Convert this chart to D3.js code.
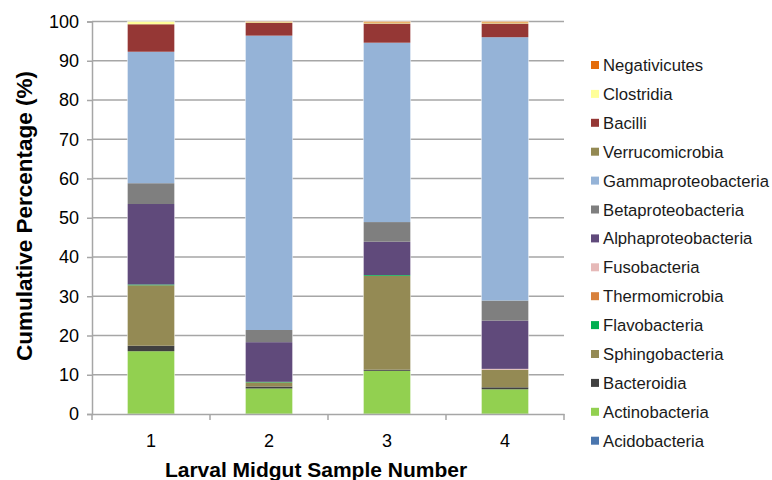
<!DOCTYPE html>
<html>
<head>
<meta charset="utf-8">
<script src="https://cdn.jsdelivr.net/npm/d3@7"></script>
<style>
    body { margin: 0; background: #fff; }
    svg { display: block; font-family: "Liberation Sans", Arial, sans-serif; }
</style>
</head>
<body>
<svg id="chart" width="772" height="480"></svg>
<script>
// samples along the x axis
let samples = ['1', '2', '3', '4'];

// classes, bottom of the stack first
let classes = ['Acidobacteria', 'Actinobacteria', 'Bacteroidia', 'Sphingobacteria', 'Flavobacteria',
    'Thermomicrobia', 'Fusobacteria', 'Alphaproteobacteria', 'Betaproteobacteria', 'Gammaproteobacteria',
    'Verrucomicrobia', 'Bacilli', 'Clostridia', 'Negativicutes'];

// percentage per class, one value per sample
let acidobacteria = [0, 0, 0, 0];
let actinobacteria = [16.0, 6.5, 11.0, 6.3];
let bacteroidia = [1.4, 0.5, 0.3, 0.5];
let sphingobacteria = [15.4, 1.05, 23.9, 4.5];
let flavobacteria = [0.2, 0.15, 0.2, 0];
let thermomicrobia = [0, 0, 0, 0];
let fusobacteria = [0, 0, 0, 0.2];
let alphaproteobacteria = [20.5, 10.1, 8.5, 12.3];
let betaproteobacteria = [5.3, 3.1, 5.0, 5.1];
let gammaproteobacteria = [33.5, 75.0, 45.7, 67.1];
let verrucomicrobia = [0, 0, 0, 0];
let bacilli = [7.0, 3.3, 4.9, 3.5];
let clostridia = [0.7, 0.15, 0.25, 0.25];
let negativicutes = [0, 0.15, 0.25, 0.25];

let yTicks = [0, 10, 20, 30, 40, 50, 60, 70, 80, 90, 100];

let colors = {
    Acidobacteria: '#4a76ae',
    Actinobacteria: '#92d050',
    Bacteroidia: '#404040',
    Sphingobacteria: '#948a54',
    Flavobacteria: '#00b050',
    Thermomicrobia: '#d8813c',
    Fusobacteria: '#e6b9b8',
    Alphaproteobacteria: '#604a7b',
    Betaproteobacteria: '#7f7f7f',
    Gammaproteobacteria: '#95b3d7',
    Verrucomicrobia: '#938953',
    Bacilli: '#953735',
    Clostridia: '#ffff99',
    Negativicutes: '#e46c0a'
};

let series = [acidobacteria, actinobacteria, bacteroidia, sphingobacteria, flavobacteria,
    thermomicrobia, fusobacteria, alphaproteobacteria, betaproteobacteria, gammaproteobacteria,
    verrucomicrobia, bacilli, clostridia, negativicutes];

let rows = samples.map((s, i) => {
    let row = {sample: s};
    classes.forEach((c, j) => row[c] = series[j][i]);
    return row;
});

let margin = {top: 21.5, left: 92};
let width = 472, height = 392.5;

let svg = d3.select('#chart');
let g = svg.append('g').attr('transform', `translate(${margin.left},${margin.top})`);

let x = d3.scaleBand().domain(samples).range([0, width]).paddingInner(0.6).paddingOuter(0.3);
let xBoundary = d3.scaleLinear().domain([0, samples.length]).range([0, width]);
let y = d3.scaleLinear().domain([0, 100]).range([height, 0]);

// gridlines
g.append('g')
    .selectAll('line')
    .data(yTicks.filter(t => t > 0))
    .join('line')
    .attr('x1', 0)
    .attr('x2', width)
    .attr('y1', d => y(d))
    .attr('y2', d => y(d))
    .attr('stroke', '#a6a6a6')
    .attr('stroke-width', 1.5);

let stack = d3.stack().keys(classes)(rows);

g.append('g')
    .selectAll('g')
    .data(stack)
    .join('g')
    .attr('fill', d => colors[d.key])
    .selectAll('rect')
    .data(d => d.filter(p => p[1] - p[0] > 0))
    .join('rect')
    .attr('x', d => x(d.data.sample))
    .attr('width', x.bandwidth())
    .attr('y', d => y(d[1]))
    .attr('height', d => y(d[0]) - y(d[1]));

// thin light edge around each bar
g.append('g')
    .selectAll('rect')
    .data(samples)
    .join('rect')
    .attr('x', d => x(d))
    .attr('width', x.bandwidth())
    .attr('y', y(100))
    .attr('height', y(0) - y(100))
    .attr('fill', 'none')
    .attr('stroke', '#ffffff')
    .attr('stroke-opacity', 0.5)
    .attr('stroke-width', 1);

// y axis
let yAxis = g.append('g')
    .call(d3.axisLeft(y).tickValues(yTicks).tickSize(5).tickPadding(8));
yAxis.select('.domain').attr('stroke', '#a6a6a6').attr('stroke-width', 1.5);
yAxis.selectAll('.tick line').attr('stroke', '#a6a6a6').attr('stroke-width', 1.5);
yAxis.selectAll('.tick text').attr('font-size', 18).attr('fill', '#000')
    .attr('font-family', '"Liberation Sans", Arial, sans-serif');

// x axis
let xAxis = g.append('g')
    .attr('transform', `translate(0,${height})`)
    .call(d3.axisBottom(x).tickSize(0).tickPadding(20));
xAxis.select('.domain').attr('stroke', '#a6a6a6').attr('stroke-width', 1.5);
xAxis.selectAll('.tick text').attr('font-size', 18).attr('fill', '#000')
    .attr('font-family', '"Liberation Sans", Arial, sans-serif');
xAxis.append('g')
    .selectAll('line')
    .data(d3.range(samples.length + 1))
    .join('line')
    .attr('x1', d => xBoundary(d))
    .attr('x2', d => xBoundary(d))
    .attr('y1', 0)
    .attr('y2', 6)
    .attr('stroke', '#a6a6a6')
    .attr('stroke-width', 1.5);

// axis titles
svg.append('text')
    .attr('x', 316)
    .attr('y', 477)
    .attr('text-anchor', 'middle')
    .attr('font-size', 21)
    .attr('font-weight', 'bold')
    .text('Larval Midgut Sample Number');

svg.append('text')
    .attr('transform', `translate(32,216) rotate(-90)`)
    .attr('text-anchor', 'middle')
    .attr('font-size', 22.5)
    .attr('font-weight', 'bold')
    .text('Cumulative Percentage (%)');

// legend, top of the stack first
let legend = svg.append('g').attr('transform', 'translate(591,65)');
let legendItems = legend.selectAll('g')
    .data(classes.slice().reverse())
    .join('g')
    .attr('transform', (d, i) => `translate(0,${i * 28.9})`);

legendItems.append('rect')
    .attr('x', 0)
    .attr('y', -4)
    .attr('width', 8)
    .attr('height', 8)
    .attr('fill', d => colors[d]);

legendItems.append('text')
    .attr('x', 12)
    .attr('y', 0)
    .attr('dy', '0.36em')
    .attr('font-size', 16.7)
    .attr('fill', '#1a1a1a')
    .text(d => d);
</script>
</body>
</html>
